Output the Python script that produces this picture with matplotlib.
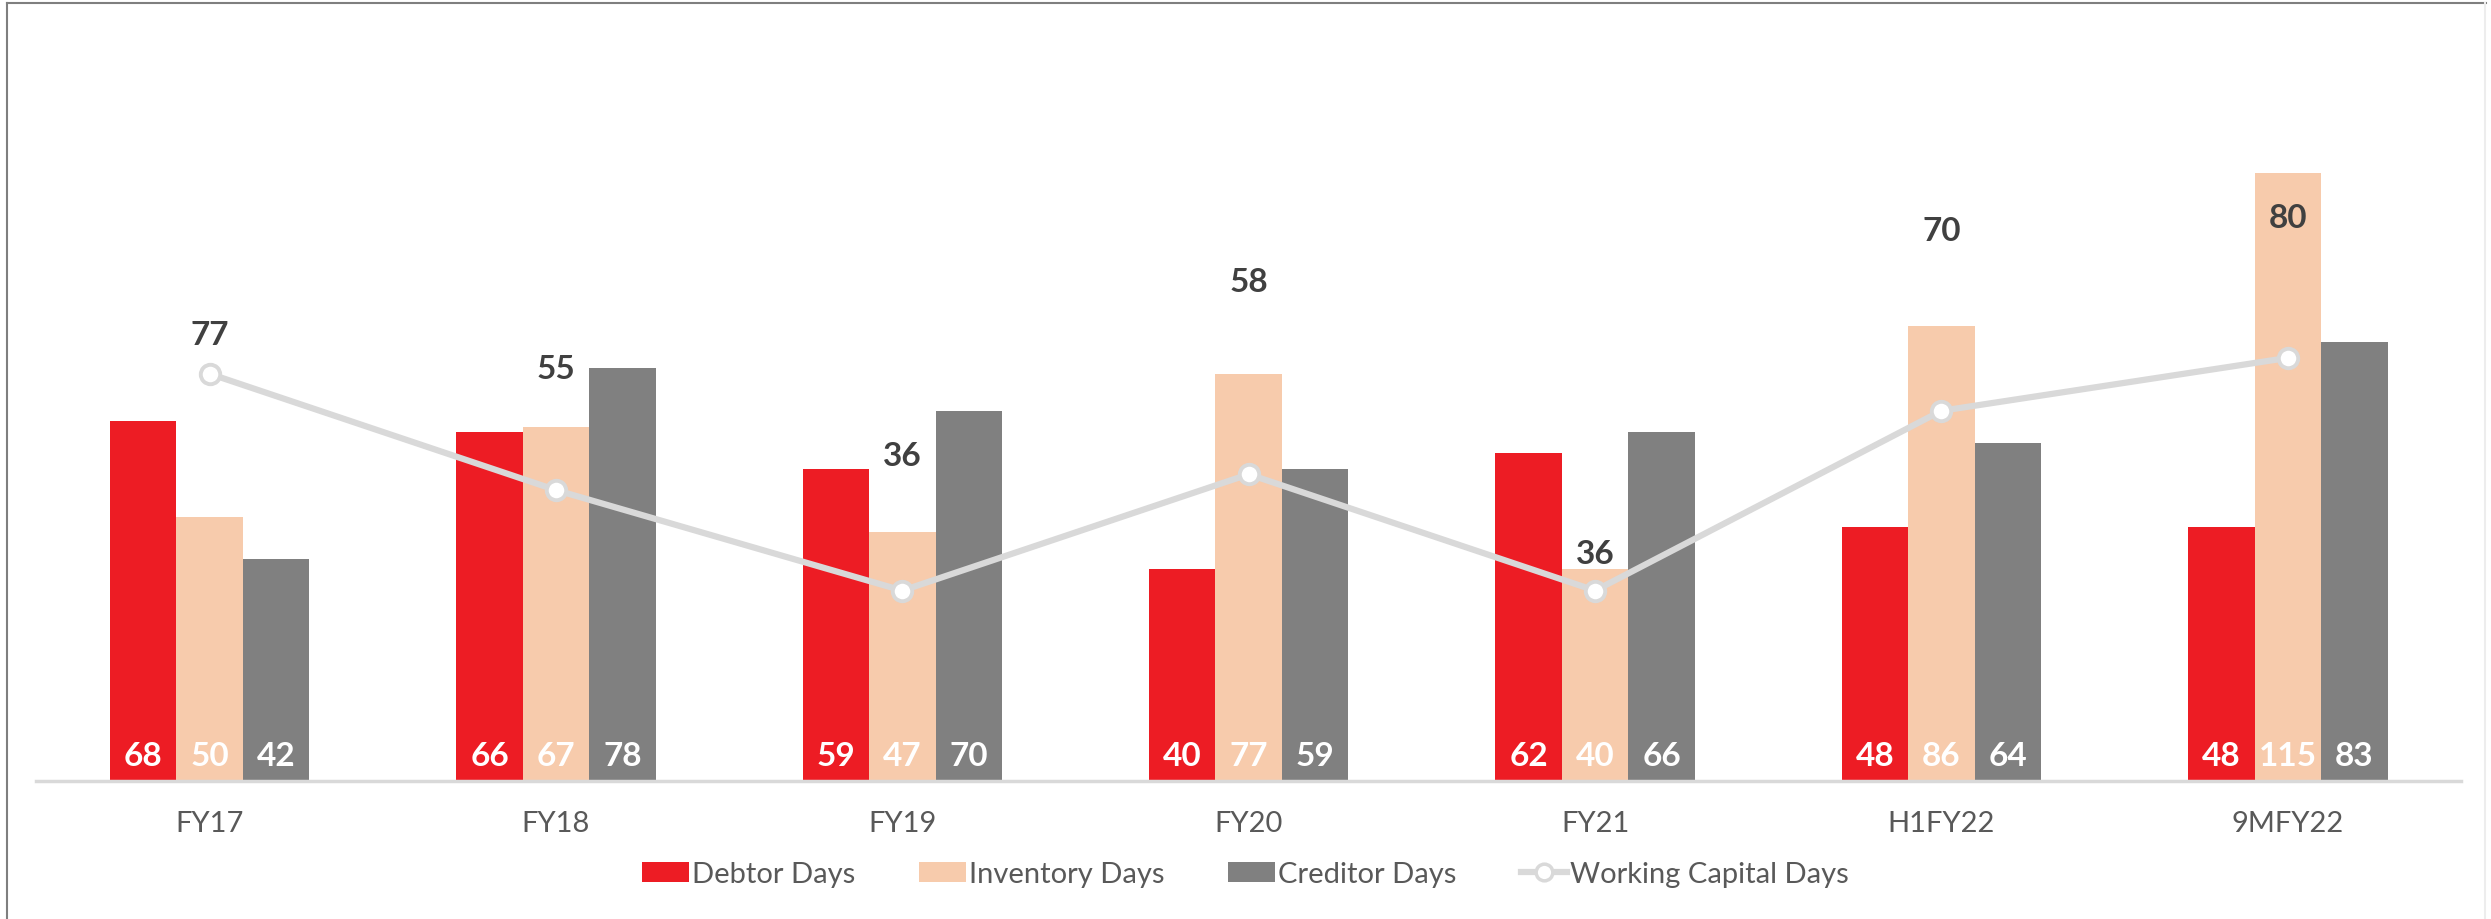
import numpy as np
import matplotlib
matplotlib.use("Agg")
import matplotlib.pyplot as plt
from matplotlib.lines import Line2D
from matplotlib.patches import Patch

plt.rcParams['font.family'] = ['Lato', 'DejaVu Sans']

categories = ["FY17", "FY18", "FY19", "FY20", "FY21", "H1FY22", "9MFY22"]
debtor_days = [68, 66, 59, 40, 62, 48, 48]
inventory_days = [50, 67, 47, 77, 40, 86, 115]
creditor_days = [42, 78, 70, 59, 66, 64, 83]
wc_days = [77, 55, 36, 58, 36, 70, 80]

# where the working capital labels sit (data units, hand placed as in the source)
wc_label_y = [84.5, 78, 61.5, 94.5, 43, 104, 106.5]

RED = "#ED1C24"
PEACH = "#F7CBAC"
GREY = "#808080"
LINE = "#D9D9D9"
TEXT_DARK = "#404040"
TEXT_CAT = "#595959"

fig = plt.figure(figsize=(24.91, 9.2), dpi=100)
ax = fig.add_axes([0.01465, 0.15, 0.9733, 0.8163])

x = np.arange(len(categories))
width = 0.192

series = [
    (debtor_days, RED, "Debtor Days"),
    (inventory_days, PEACH, "Inventory Days"),
    (creditor_days, GREY, "Creditor Days"),
]

for i, (vals, col, name) in enumerate(series):
    pos = x + (i - 1) * width
    ax.bar(pos, vals, width, color=col, label=name, zorder=2)
    for px, v in zip(pos, vals):
        ax.text(px, 4.8, str(v), ha="center", va="center",
                color="white", fontsize=24, fontweight="bold", zorder=5)

ax.plot(x, wc_days, color=LINE, linewidth=4.5, marker="o",
        markersize=14, markerfacecolor="white", markeredgecolor=LINE,
        markeredgewidth=2.8, zorder=4, label="Working Capital Days")

for px, v, ly in zip(x, wc_days, wc_label_y):
    ax.text(px, ly, str(v), ha="center", va="center",
            color=TEXT_DARK, fontsize=24, fontweight="bold", zorder=5)

ax.set_xlim(-0.5, len(categories) - 0.5)
ax.set_ylim(0, 142)
ax.set_yticks([])
ax.set_xticks(x)
ax.set_xticklabels(categories, fontsize=21, color=TEXT_CAT)
ax.tick_params(axis="x", length=0, pad=21)

for s in ["top", "right", "left"]:
    ax.spines[s].set_visible(False)
ax.spines["bottom"].set_color(LINE)
ax.spines["bottom"].set_linewidth(2.5)

handles = [
    Patch(facecolor=RED),
    Patch(facecolor=PEACH),
    Patch(facecolor=GREY),
    Line2D([], [], color=LINE, linewidth=4.5, marker="o", markersize=12,
           markerfacecolor="white", markeredgecolor=LINE, markeredgewidth=2.5),
]
labels = ["Debtor Days", "Inventory Days", "Creditor Days", "Working Capital Days"]
leg = fig.legend(handles, labels, loc="center", bbox_to_anchor=(0.5, 0.049),
                 ncol=4, frameon=False, fontsize=21, handlelength=1.6,
                 handletextpad=0.1, columnspacing=2.2)
for t in leg.get_texts():
    t.set_color(TEXT_CAT)

# frame round the picture
fig.add_artist(Line2D([0.0028, 0.0028], [0, 0.9957], transform=fig.transFigure,
                      color="#7F7F7F", linewidth=1.5))
fig.add_artist(Line2D([0.0028, 0.998], [0.9957, 0.9957], transform=fig.transFigure,
                      color="#7F7F7F", linewidth=1.5))
fig.add_artist(Line2D([0.9976, 0.9976], [0, 0.9957], transform=fig.transFigure,
                      color="#EDEDED", linewidth=1.5))

fig.savefig("out.png", dpi=100)
